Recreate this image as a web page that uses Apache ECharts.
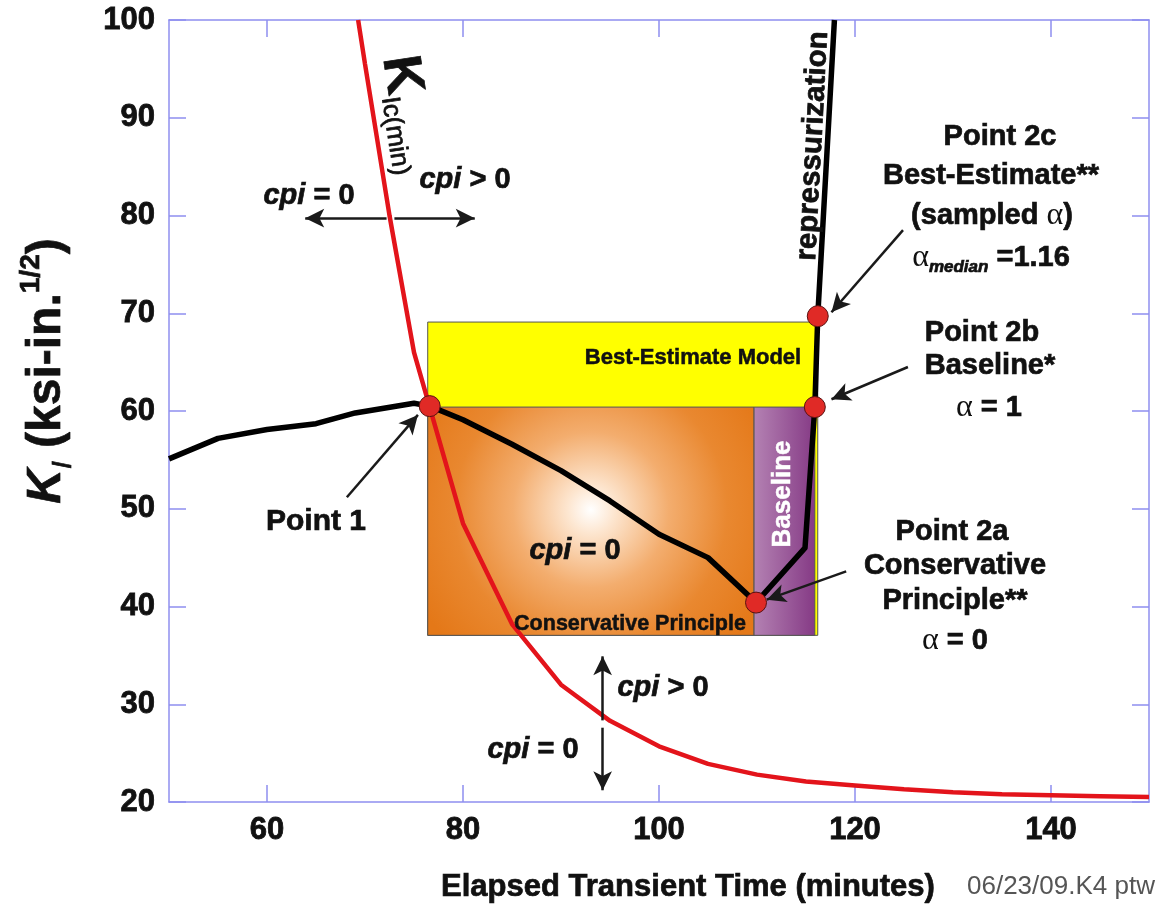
<!DOCTYPE html>
<html><head><meta charset="utf-8">
<script src="https://cdn.jsdelivr.net/npm/echarts@6/dist/echarts.min.js"></script>
<style>html,body{margin:0;padding:0;background:#fff}#c{width:1175px;height:907px}</style>
</head><body><div id="c"></div>
<script>
// ---- data ----
const xTicks = [60, 80, 100, 120, 140];
const yTicks = [20, 30, 40, 50, 60, 70, 80, 90, 100];
// K_Ic(min) curve
const kicTime  = [69.3, 70, 72.5, 75, 80, 85, 90, 95, 100, 105, 110, 115, 120, 125, 130, 135, 140, 145, 150];
const kicValue = [100, 95.5, 80, 66, 48.5, 38.2, 32.0, 28.3, 25.7, 23.9, 22.8, 22.1, 21.7, 21.3, 21.0, 20.8, 20.7, 20.6, 20.5];
// applied K_I transient
const kiTime  = [50, 55, 60, 65, 69, 75, 76.6, 80, 85, 90, 95, 100, 105, 109.9, 114.9, 115.9, 116.2, 117.9];
const kiValue = [55.1, 57.2, 58.1, 58.7, 59.8, 60.8, 60.5, 59.1, 56.6, 53.9, 50.8, 47.4, 45.0, 40.4, 46.0, 60.4, 69.7, 100];
// marked points
const pointNames = ['Point 1', 'Point 2a', 'Point 2b', 'Point 2c'];
const pointTime  = [76.6, 109.9, 115.9, 116.2];
const pointValue = [60.5, 40.4, 60.4, 69.7];
// shaded regions [x1,x2] / [y1,y2]
const regionNames = ['Best-Estimate Model', 'Conservative Principle', 'Baseline'];
const regionTime  = [[76.4, 116.2], [76.4, 109.7], [109.7, 115.9]];
const regionValue = [[37.05, 69.1], [37.05, 60.4], [37.05, 60.4]];
// annotation arrows: tail -> head  [x1, y1, x2, y2]
const arrowTail = [[72.2, 79.73], [73.0, 79.73], [94.25, 28.35], [94.25, 27.6], [68.15, 51.18], [124.9, 78.5], [125.4, 64.5], [119.1, 43.6]];
const arrowHead = [[63.9, 79.73], [81.2, 79.73], [94.25, 34.9], [94.25, 21.2], [75.4, 59.6], [117.6, 70.1], [117.6, 61.2], [111.0, 40.7]];

// ---- chart ----
const AX = '#8f8fef';
const INK = '#111';
const SANS = 'Liberation Sans, Arial, Helvetica, sans-serif';
const SERIF = 'Liberation Serif, DejaVu Serif, serif';
const chart = echarts.init(document.getElementById('c'), null, {renderer: 'canvas'});

function axisX(pos, showLabel) {
  return {
    type: 'value', min: 50, max: 150, interval: 10, position: pos,
    axisLine: {onZero: false, lineStyle: {color: AX, width: 1.5}},
    axisTick: {inside: true, length: 17, customValues: xTicks, lineStyle: {color: AX, width: 1.5}},
    axisLabel: {show: showLabel, customValues: xTicks, fontSize: 31, fontWeight: 'bold', color: INK, margin: 13, fontFamily: SANS,
      textBorderColor: INK, textBorderWidth: 0.8},
    splitLine: {show: false}
  };
}
function axisY(pos, showLabel) {
  return {
    type: 'value', min: 20, max: 100, interval: 10, position: pos,
    axisLine: {onZero: false, lineStyle: {color: AX, width: 1.5}},
    axisTick: {inside: true, length: 17, customValues: yTicks, lineStyle: {color: AX, width: 1.5}},
    axisLabel: {show: showLabel, customValues: yTicks, fontSize: 31, fontWeight: 'bold', color: INK, margin: 14, fontFamily: SANS,
      textBorderColor: INK, textBorderWidth: 0.8},
    splitLine: {show: false}
  };
}

const regionStyles = [
  {color: '#ffff00', borderColor: '#555', borderWidth: 1},
  {color: {type: 'radial', x: 0.5, y: 0.45, r: 0.85, colorStops: [
    {offset: 0, color: '#ffffff'}, {offset: 0.12, color: '#fde6d0'}, {offset: 0.4, color: '#f3ad6e'},
    {offset: 0.7, color: '#e98830'}, {offset: 1, color: '#e47818'}]}, borderColor: '#555', borderWidth: 1},
  {color: {type: 'linear', x: 0, y: 0, x2: 1, y2: 0, colorStops: [
    {offset: 0, color: '#b482b3'}, {offset: 1, color: '#853a85'}]}, borderColor: '#555', borderWidth: 1}
];

const areaData = regionNames.map((n, i) => [
  {name: n, coord: [regionTime[i][0], regionValue[i][1]], itemStyle: regionStyles[i]},
  {coord: [regionTime[i][1], regionValue[i][0]]}
]);
const arrowData = arrowTail.map((t, i) => [{coord: t}, {coord: arrowHead[i]}]);

function txt(text, x, y, size, opts) {
  opts = opts || {};
  const fill = opts.fill || INK;
  return {
    type: 'text', x: x, y: y, rotation: opts.rotation || 0, z: 100, silent: true,
    style: {
      text: text, fill: fill, fontSize: size, fontWeight: opts.weight || 'bold',
      fontStyle: opts.style || 'normal', fontFamily: opts.family || SANS,
      stroke: opts.noStroke ? null : fill, lineWidth: opts.noStroke ? 0 : (opts.sw || 0.7),
      align: opts.align || 'center', verticalAlign: 'middle', textAlign: opts.align || 'center', textVerticalAlign: 'middle',
      rich: opts.rich
    }
  };
}
function richSet(size, fill) {
  fill = fill || INK;
  return {
    b: {fontSize: size, fontWeight: 'bold', fontFamily: SANS, fill: fill, lineHeight: size + 6},
    i: {fontSize: size, fontWeight: 'bold', fontStyle: 'italic', fontFamily: SANS, fill: fill, lineHeight: size + 6},
    g: {fontSize: size + 3, fontWeight: 'normal', fontFamily: SERIF, fill: fill, lineHeight: size + 6, lineWidth: 0},
    s: {fontSize: Math.round(size * 0.58), fontWeight: 'bold', fontStyle: 'italic', fontFamily: SANS, fill: fill, lineHeight: Math.round(size * 0.58) + 2, verticalAlign: 'bottom'}
  };
}
const R29 = richSet(29);

const graphics = [
  // y-axis title
  txt('{k|K}{sub|I}{b| (ksi-in.}{sup|1/2}{b|)}', 47, 371, 48, {rotation: Math.PI / 2, rich: {
    k: {fontSize: 48, fontWeight: 'bold', fontStyle: 'italic', fontFamily: SANS, fill: INK, lineHeight: 60},
    b: {fontSize: 48, fontWeight: 'bold', fontFamily: SANS, fill: INK, lineHeight: 60},
    sub: {fontSize: 28, fontWeight: 'normal', fontStyle: 'italic', fontFamily: SANS, fill: INK, lineHeight: 28, verticalAlign: 'bottom'},
    sup: {fontSize: 28, fontWeight: 'bold', fontFamily: SANS, fill: INK, lineHeight: 28, verticalAlign: 'top'}
  }}),
  // x-axis title + stamp
  txt('Elapsed Transient Time (minutes)', 688, 887, 31),
  txt('06/23/09.K4 ptw', 967, 887, 26, {weight: 'normal', fill: '#555', align: 'left', noStroke: true}),
  // curve labels
  txt('{k|K}{s|Ic(min)}', 398, 56, 54, {rotation: -1.42, align: 'left', rich: {
    k: {fontSize: 54, fontWeight: 'bold', fontFamily: SANS, fill: INK, lineHeight: 56},
    s: {fontSize: 26, fontWeight: 'normal', fontFamily: SANS, fill: INK, lineHeight: 26, verticalAlign: 'bottom'}
  }}),
  txt('repressurization', 813, 146, 29.5, {rotation: 1.518}),
  // cpi labels
  txt('{i|cpi}{b| = 0}', 309, 196, 29, {rich: R29}),
  txt('{i|cpi}{b| > 0}', 465, 180, 29, {rich: R29}),
  txt('{i|cpi}{b| > 0}', 663, 688, 29, {rich: R29}),
  txt('{i|cpi}{b| = 0}', 533, 750, 29, {rich: R29}),
  txt('{i|cpi}{b| = 0}', 575, 551, 29, {rich: R29}),
  // region labels
  txt(regionNames[0], 693, 358, 22, {sw: 0.5}),
  txt(regionNames[1], 630, 624, 21.5, {sw: 0.5}),
  txt(regionNames[2], 783, 494, 26, {rotation: Math.PI / 2, fill: '#ffffff', sw: 0.5}),
  // point labels
  txt(pointNames[0], 316, 522, 30),
  txt(pointNames[3], 1000, 137, 29),
  txt('Best-Estimate**', 991, 176, 29),
  txt('{b|(sampled }{g|α}{b|)}', 992, 216, 29, {rich: R29}),
  txt('{g|α}{s|median}{b| =1.16}', 991, 258, 29, {rich: R29}),
  txt(pointNames[2], 982, 333, 29),
  txt('Baseline*', 990, 366, 29),
  txt('{g|α}{b| = 1}', 989, 408, 29, {rich: R29}),
  txt(pointNames[1], 952, 532, 29),
  txt('Conservative', 955, 566, 29),
  txt('Principle**', 955, 601, 29),
  txt('{g|α}{b| = 0}', 955, 641, 29, {rich: R29})
];

chart.setOption({
  animation: false,
  backgroundColor: '#ffffff',
  grid: {left: 169, right: 26, top: 20, bottom: 105},
  xAxis: [axisX('bottom', true), axisX('top', false)],
  yAxis: [axisY('left', true), axisY('right', false)],
  series: [
    {
      type: 'line', name: 'regions', data: [], z: 1, silent: true,
      markArea: {silent: true, label: {show: false}, data: areaData},
      markLine: {silent: true, symbol: ['none', 'arrow'], symbolSize: [14, 19], label: {show: false},
        lineStyle: {color: '#1a1a1a', width: 2.5, type: 'solid'}, emphasis: {disabled: true}, data: arrowData}
    },
    {
      type: 'line', name: 'KIc(min)', data: kicTime.map((t, i) => [t, kicValue[i]]),
      showSymbol: false, z: 3, silent: true, clip: true,
      lineStyle: {color: '#e3141b', width: 4.5}
    },
    {
      type: 'line', name: 'KI', data: kiTime.map((t, i) => [t, kiValue[i]]),
      showSymbol: false, z: 4, silent: true, clip: true,
      lineStyle: {color: '#000000', width: 5.5, join: 'round'}
    },
    {
      type: 'scatter', name: 'points', data: pointTime.map((t, i) => [t, pointValue[i]]),
      symbolSize: 21, z: 5, silent: true,
      itemStyle: {color: '#e02a26', borderColor: '#5a1010', borderWidth: 1, opacity: 1}
    }
  ],
  graphic: {elements: graphics}
});
</script>
</body></html>
